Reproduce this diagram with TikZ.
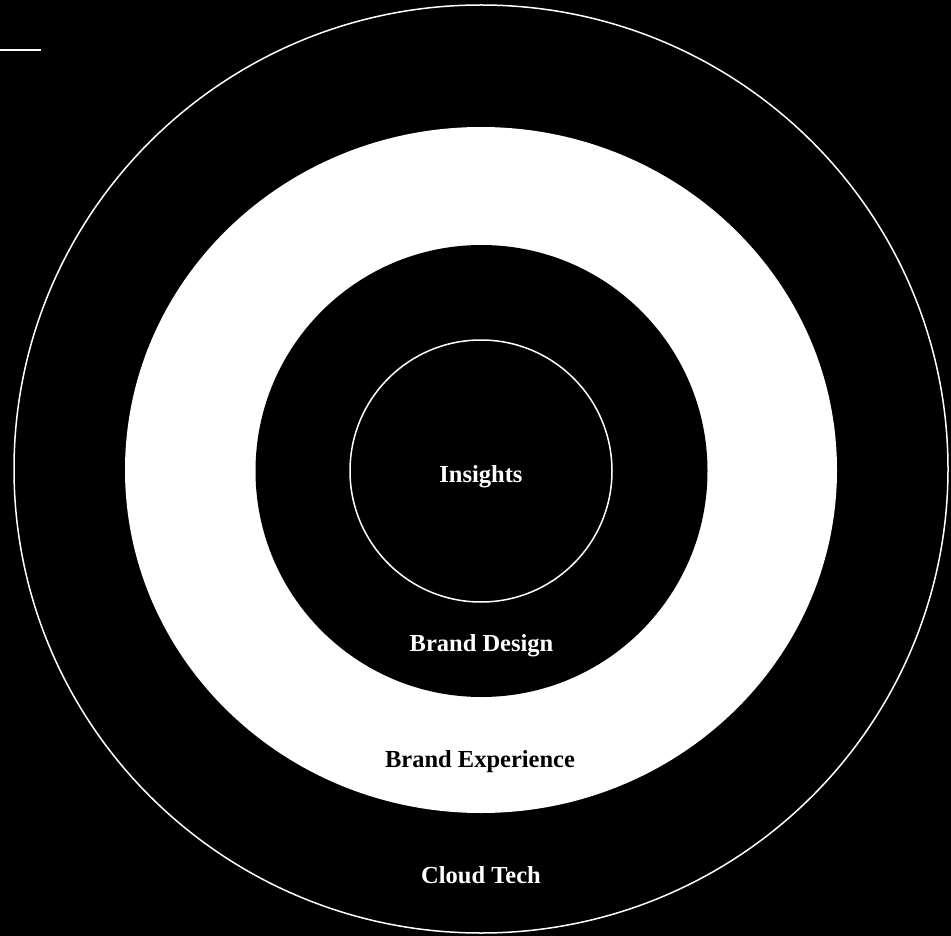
\documentclass[tikz,border=0pt]{standalone}
\usepackage{fontspec}
\setmainfont{Liberation Serif}
\begin{document}
\begin{tikzpicture}[x=1pt,y=-1pt,
  lbl/.style={font=\fontsize{24.5}{28}\selectfont\bfseries, anchor=base, inner sep=0pt},
  ring/.style={draw=white, line width=1.5pt}]
\fill[black] (0,0) rectangle (951,936);
\useasboundingbox (0,0) rectangle (951,936);
% outer ring
\draw[ring] (481,469) ellipse [x radius=467, y radius=464];
% white disc
\fill[white] (481,470) ellipse [x radius=356, y radius=343];
% black disc
\fill[black] (481.5,471) circle [radius=226];
% inner ring
\draw[ring] (481,471) circle [radius=131];
% top-left mark
\coordinate (m1) at (0,50);
\coordinate (m2) at (41,50);
\draw[white, line width=2pt] (m1) -- (m2);
% labels
\node[lbl, text=white] (insights) at (481,482) {Insights};
\node[lbl, text=white] (design) at (481.5,651) {Brand Design};
\node[lbl, text=black] (experience) at (480,767) {Brand Experience};
\node[lbl, text=white] (cloud) at (481,883) {Cloud Tech};
\end{tikzpicture}
\end{document}
